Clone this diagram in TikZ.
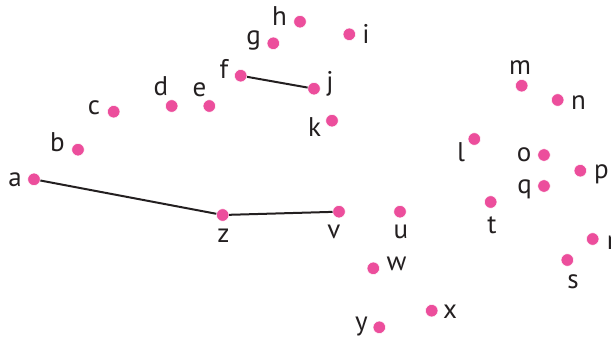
\documentclass[tikz,border=0pt]{standalone}
\usepackage{fontspec}
\setmainfont{PT Sans}
\definecolor{dotpink}{RGB}{236,78,156}
\definecolor{linegray}{RGB}{35,31,32}
\tikzstyle{every node}=[font=\fontsize{27}{27}\selectfont, text=linegray]
\tikzstyle{dot}=[circle, fill=dotpink, draw=white, line width=0.5pt, inner sep=0pt, minimum size=12.5pt]
\tikzstyle{lbl}=[anchor=base, inner sep=0pt]
\tikzstyle{link}=[draw=linegray, line width=2pt]

\begin{document}
\begin{tikzpicture}[x=1pt, y=-1pt]
  \useasboundingbox (0,0) rectangle (611,342);
  % points
  \node[dot] (a) at (34,179.3) {};
  \node[dot] (b) at (78,149.7) {};
  \node[dot] (c) at (113.7,111.7) {};
  \node[dot] (d) at (171.7,106) {};
  \node[dot] (e) at (209.3,106) {};
  \node[dot] (f) at (240.7,75.7) {};
  \node[dot] (g) at (273.3,43.3) {};
  \node[dot] (h) at (300,21.7) {};
  \node[dot] (i) at (349.3,34.3) {};
  \node[dot] (j) at (314,88.7) {};
  \node[dot] (k) at (332,120.7) {};
  \node[dot] (l) at (474.3,139) {};
  \node[dot] (m) at (521.7,85.7) {};
  \node[dot] (n) at (557.7,100) {};
  \node[dot] (o) at (544,155) {};
  \node[dot] (p) at (580.3,170.7) {};
  \node[dot] (q) at (544,186) {};
  \node[dot] (r) at (592.7,239) {};
  \node[dot] (s) at (567.3,260) {};
  \node[dot] (t) at (490.7,202) {};
  \node[dot] (u) at (400,211.7) {};
  \node[dot] (v) at (339,211.7) {};
  \node[dot] (w) at (373.3,268.3) {};
  \node[dot] (x) at (431.7,310.7) {};
  \node[dot] (y) at (379.3,327.3) {};
  \node[dot] (z) at (222.7,215) {};
  % letters
  \node[lbl] (a-lbl) at (15,186.7) {a};
  \node[lbl] (b-lbl) at (57.5,151.7) {b};
  \node[lbl] (c-lbl) at (94,115) {c};
  \node[lbl] (d-lbl) at (161,96) {d};
  \node[lbl] (e-lbl) at (199.5,96.5) {e};
  \node[lbl] (f-lbl) at (224,79) {f};
  \node[lbl] (g-lbl) at (253.5,44.3) {g};
  \node[lbl] (h-lbl) at (279.5,26) {h};
  \node[lbl] (i-lbl) at (366,43.3) {i};
  \node[lbl] (j-lbl) at (330,90.5) {j};
  \node[lbl] (k-lbl) at (314.5,136.7) {k};
  \node[lbl] (l-lbl) at (461,161.7) {l};
  \node[lbl] (m-lbl) at (520,75) {m};
  \node[lbl] (n-lbl) at (578.5,110) {n};
  \node[lbl] (o-lbl) at (524,161.7) {o};
  \node[lbl] (p-lbl) at (601.5,178.3) {p};
  \node[lbl] (q-lbl) at (524.5,193.3) {q};
  \node[lbl] (r-lbl) at (611.5,250) {r};
  \node[lbl] (s-lbl) at (573,288.3) {s};
  \node[lbl] (t-lbl) at (492,233.3) {t};
  \node[lbl] (u-lbl) at (401,238.3) {u};
  \node[lbl] (v-lbl) at (334,238.3) {v};
  \node[lbl] (w-lbl) at (396.5,270) {w};
  \node[lbl] (x-lbl) at (450,318.3) {x};
  \node[lbl] (y-lbl) at (361.5,330) {y};
  \node[lbl] (z-lbl) at (223.5,242.7) {z};
  % edges
  \draw[link] (f) -- (j);
  \draw[link] (a) -- (z) -- (v);
\end{tikzpicture}
\end{document}
